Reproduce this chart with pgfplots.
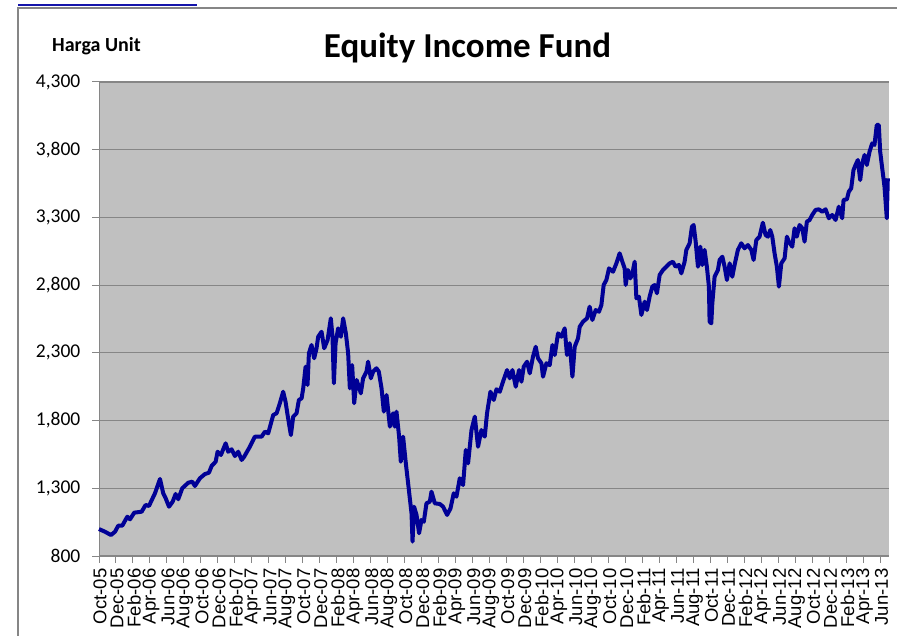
\documentclass[border=0pt]{standalone}
\usepackage{fontspec}
\setmainfont{Carlito}
\newfontfamily\arialfont{Liberation Sans}
\usepackage{pgfplots}
\usepackage{pgfplotstable}
\pgfplotsset{compat=1.18}
\definecolor{plotbg}{RGB}{192,192,192}
\definecolor{gridc}{RGB}{134,134,134}
\definecolor{linec}{RGB}{0,0,150}
\definecolor{borderc}{RGB}{134,134,134}
\definecolor{linkc}{RGB}{20,20,170}
\pgfplotstableread{
m v
0.00 999
0.71 979
1.41 955
1.88 979
2.27 1024
2.74 1024
3.33 1090
3.65 1071
4.15 1120
5.02 1127
5.49 1177
5.88 1169
6.59 1263
7.18 1369
7.56 1263
7.85 1226
8.24 1164
8.67 1201
9.02 1258
9.33 1219
9.80 1300
10.51 1341
10.98 1349
11.29 1317
11.88 1374
12.47 1405
12.94 1415
13.26 1465
13.73 1496
13.96 1570
14.35 1546
14.91 1632
15.21 1570
15.61 1588
16.00 1538
16.39 1570
16.79 1509
17.09 1533
17.76 1607
18.35 1681
19.14 1681
19.53 1718
19.92 1706
20.51 1841
20.91 1854
21.29 1928
21.68 2013
21.96 1939
22.20 1841
22.59 1693
22.86 1829
23.26 1854
23.53 1952
23.85 1964
24.04 2038
24.32 2198
24.55 2063
24.71 2297
25.02 2358
25.33 2260
25.61 2334
25.80 2419
26.20 2456
26.51 2334
26.91 2395
27.29 2555
27.49 2419
27.65 2075
27.85 2371
28.15 2481
28.47 2419
28.74 2555
29.06 2444
29.33 2297
29.53 2038
29.80 2210
30.04 1928
30.32 2100
30.59 2050
30.82 2001
31.09 2112
31.49 2161
31.68 2235
32.00 2112
32.27 2161
32.67 2186
32.94 2161
33.26 2038
33.53 1866
33.85 1989
34.24 1755
34.62 1854
34.82 1755
35.02 1866
35.33 1681
35.53 1496
35.80 1681
36.12 1484
36.39 1337
36.59 1226
36.79 1115
36.91 906
37.09 1164
37.38 1103
37.68 968
37.96 1066
38.24 1053
38.55 1189
38.94 1201
39.14 1275
39.53 1189
40.12 1184
40.51 1164
40.98 1103
41.38 1152
41.76 1263
42.08 1238
42.47 1374
42.86 1324
43.18 1583
43.45 1484
43.85 1730
44.24 1829
44.62 1607
45.02 1730
45.41 1681
45.68 1854
46.08 2013
46.47 1952
46.79 2031
47.18 2013
47.56 2087
48.04 2173
48.35 2112
48.67 2173
49.06 2050
49.45 2173
49.73 2087
50.00 2198
50.39 2235
50.71 2149
51.09 2272
51.41 2345
51.68 2260
52.08 2223
52.27 2124
52.67 2223
53.06 2210
53.38 2358
53.65 2284
54.04 2444
54.44 2419
54.82 2481
55.09 2284
55.41 2371
55.73 2124
56.00 2345
56.39 2407
56.59 2493
56.98 2530
57.45 2555
57.76 2641
58.08 2543
58.47 2616
58.86 2604
59.14 2653
59.41 2801
59.73 2838
60.04 2924
60.51 2899
60.91 2961
61.29 3035
61.61 2973
61.88 2924
62.00 2801
62.27 2912
62.55 2850
62.79 2887
63.06 2973
63.26 2703
63.56 2715
63.85 2580
64.24 2678
64.51 2616
64.82 2715
65.14 2789
65.41 2801
65.68 2740
66.00 2875
66.39 2912
66.79 2936
67.18 2961
67.56 2973
67.88 2936
68.27 2949
68.55 2887
68.94 2973
69.14 3060
69.53 3109
69.80 3232
70.00 3244
70.24 3121
70.51 2936
70.79 3084
71.02 2949
71.29 3060
71.56 2936
71.80 2789
71.88 2530
72.08 2518
72.20 2666
72.47 2862
72.86 2912
73.06 2986
73.38 3010
73.65 2936
73.92 2838
74.24 2961
74.55 2862
74.82 2949
75.21 3060
75.61 3109
76.00 3072
76.39 3096
76.79 3060
77.06 2986
77.38 3133
77.76 3158
78.15 3261
78.47 3170
78.74 3158
79.02 3207
79.26 3158
79.53 3035
79.80 2936
80.04 2789
80.32 2961
80.71 2998
80.98 3158
81.21 3121
81.61 3084
81.88 3220
82.15 3158
82.47 3244
82.79 3220
83.06 3121
83.33 3269
83.65 3281
83.96 3318
84.35 3355
84.74 3360
85.14 3342
85.53 3360
85.92 3294
86.32 3318
86.71 3281
87.09 3379
87.49 3294
87.65 3429
88.04 3434
88.27 3490
88.55 3515
88.82 3650
89.06 3687
89.33 3724
89.61 3576
89.85 3700
90.12 3761
90.39 3687
90.71 3786
91.02 3847
91.29 3835
91.56 3983
91.80 3983
91.96 3786
92.20 3663
92.47 3527
92.74 3294
92.86 3589
}\fund
\begin{document}
\begin{tikzpicture}
\path[use as bounding box, fill=white] (0bp,0bp) rectangle (897bp,636bp);
\draw[borderc, line width=1.5bp] (18bp,0bp) -- (18bp,628bp) -- (897bp,628bp);
\draw[linkc, line width=2bp] (18bp,631bp) -- (197bp,631bp);
\node[anchor=base, font=\fontsize{35bp}{40bp}\selectfont\bfseries] at (467.5bp,578bp) {Equity Income Fund};
\node[anchor=base west, inner sep=0pt, font=\fontsize{20bp}{24bp}\selectfont\bfseries] at (52bp,584.3bp) {Harga Unit};
\begin{axis}[
  at={(99bp,80bp)}, anchor=south west,
  scale only axis, width=790bp, height=474bp,
  xmin=0, xmax=93, ymin=800, ymax=4300,
  axis lines*=left,
  axis line style={gridc, line width=1bp},
  axis background/.style={fill=plotbg},
  ytick={800,1300,...,4300},
  xtick={0,2,...,92},
  xticklabels={Oct-05,Dec-05,Feb-06,Apr-06,Jun-06,Aug-06,Oct-06,Dec-06,Feb-07,Apr-07,Jun-07,Aug-07,Oct-07,Dec-07,Feb-08,Apr-08,Jun-08,Aug-08,Oct-08,Dec-08,Feb-09,Apr-09,Jun-09,Aug-09,Oct-09,Dec-09,Feb-10,Apr-10,Jun-10,Aug-10,Oct-10,Dec-10,Feb-11,Apr-11,Jun-11,Aug-11,Oct-11,Dec-11,Feb-12,Apr-12,Jun-12,Aug-12,Oct-12,Dec-12,Feb-13,Apr-13,Jun-13},
  tick align=outside,
  major tick length=6.5bp,
  tick style={gridc, line width=1bp},
  ymajorgrids,
  grid style={gridc, line width=1.2bp},
  /pgf/number format/.cd, 1000 sep={,}, assume math mode=true,
  /pgfplots/.cd,
  yticklabel style={font=\fontsize{19.5bp}{22bp}\selectfont, inner sep=0pt, xshift=-12bp},
  xticklabel style={font=\arialfont\fontsize{18.5bp}{20bp}\selectfont, rotate=90, anchor=east, inner sep=0pt, yshift=-1bp, xshift=-6bp},
  clip=false,
]
\addplot[linec, line width=4bp, line join=round, no markers] table[x=m, y=v] {\fund};
\end{axis}
\end{tikzpicture}
\end{document}
